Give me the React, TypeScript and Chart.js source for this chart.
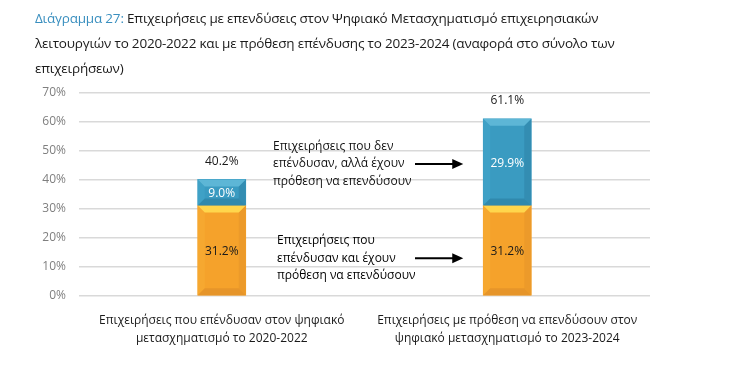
import React, { useEffect, useRef } from "react";
import { Chart, registerables } from "chart.js";

Chart.register(...registerables);

const categories: string[][] = [
  ["Επιχειρήσεις που επένδυσαν στον ψηφιακό", "μετασχηματισμό το 2020-2022"],
  ["Επιχειρήσεις με πρόθεση να επενδύσουν στον", "ψηφιακό μετασχηματισμό το 2023-2024"],
];
const investedAndIntend: number[] = [31.2, 31.2];
const notInvestedButIntend: number[] = [9.0, 29.9];
const totals: number[] = [40.2, 61.1];
const yTicks: number[] = [0, 10, 20, 30, 40, 50, 60, 70];

const titleLead = "Διάγραμμα 27:";
const titleLines = [
  " Επιχειρήσεις με επενδύσεις στον Ψηφιακό Μετασχηματισμό επιχειρησιακών",
  "λειτουργιών το 2020-2022 και με πρόθεση επένδυσης το 2023-2024 (αναφορά στο σύνολο των",
  "επιχειρήσεων)",
];

const annotationTop = ["Επιχειρήσεις που δεν", "επένδυσαν, αλλά έχουν", "πρόθεση να επενδύσουν"];
const annotationBottom = ["Επιχειρήσεις που", "επένδυσαν και έχουν", "πρόθεση να επενδύσουν"];

const FONT = "'Open Sans', 'Noto Sans', sans-serif";

const palettes = [
  { top: "#FFD64C", left: "#F6A830", right: "#EC9A2A", bottom: "#E6952A", label: "#1a1a1a" },
  { top: "#5DB6D6", left: "#3FA1C6", right: "#338DB2", bottom: "#3089AD", label: "#ffffff" },
];

const bevelPlugin = {
  id: "bevelAndLabels",
  afterDatasetsDraw(chart: any) {
    const ctx = chart.ctx;
    ctx.save();
    chart.data.datasets.forEach((ds: any, di: number) => {
      const meta = chart.getDatasetMeta(di);
      const pal = palettes[di];
      meta.data.forEach((bar: any, i: number) => {
        const { x, y, base, width } = bar.getProps(["x", "y", "base", "width"], true);
        const l = x - width / 2;
        const r = x + width / 2;
        const t = Math.min(y, base);
        const b = Math.max(y, base);
        const bv = Math.min(7, (b - t) / 2);
        const poly = (pts: number[][], color: string) => {
          ctx.beginPath();
          ctx.moveTo(pts[0][0], pts[0][1]);
          for (let k = 1; k < pts.length; k++) ctx.lineTo(pts[k][0], pts[k][1]);
          ctx.closePath();
          ctx.fillStyle = color;
          ctx.fill();
        };
        poly([[l, t], [l + bv, t + bv], [l + bv, b - bv], [l, b]], pal.left);
        poly([[r, t], [r, b], [r - bv, b - bv], [r - bv, t + bv]], pal.right);
        poly([[l, b], [l + bv, b - bv], [r - bv, b - bv], [r, b]], pal.bottom);
        poly([[l, t], [r, t], [r - bv, t + bv], [l + bv, t + bv]], pal.top);
        ctx.font = `12px ${FONT}`;
        ctx.fillStyle = pal.label;
        ctx.textAlign = "center";
        ctx.textBaseline = "middle";
        ctx.fillText(ds.data[i].toFixed(1) + "%", x, (t + b) / 2 + 1);
      });
    });
    const yScale = chart.scales.y;
    const xScale = chart.scales.x;
    ctx.font = `12px ${FONT}`;
    ctx.fillStyle = "#1a1a1a";
    ctx.textAlign = "center";
    ctx.textBaseline = "middle";
    totals.forEach((v, i) => {
      ctx.fillText(v.toFixed(1) + "%", xScale.getPixelForValue(i), yScale.getPixelForValue(v) - 18);
    });
    const arrow = (x1: number, x2: number, yy: number) => {
      ctx.strokeStyle = "#000";
      ctx.lineWidth = 2;
      ctx.beginPath();
      ctx.moveTo(x1, yy);
      ctx.lineTo(x2 - 8, yy);
      ctx.stroke();
      ctx.beginPath();
      ctx.moveTo(x2, yy);
      ctx.lineTo(x2 - 11, yy - 5);
      ctx.lineTo(x2 - 11, yy + 5);
      ctx.closePath();
      ctx.fillStyle = "#000";
      ctx.fill();
    };
    const x2 = xScale.getPixelForValue(1) - 44;
    ctx.textAlign = "left";
    ctx.fillStyle = "#111";
    const yTopMid = yScale.getPixelForValue(45.5);
    annotationTop.forEach((s, k) => ctx.fillText(s, 273, yTopMid + (k - 1) * 17.5));
    arrow(415, x2, yTopMid);
    const yBotMid = yScale.getPixelForValue(13);
    annotationBottom.forEach((s, k) => ctx.fillText(s, 277, yBotMid + (k - 1) * 17.5));
    arrow(415, x2, yBotMid);
    ctx.restore();
  },
};

export default function App() {
  const ref = useRef<HTMLCanvasElement>(null);
  useEffect(() => {
    document.body.style.margin = "0";
    const chart = new Chart(ref.current!, {
      type: "bar",
      data: {
        labels: categories,
        datasets: [
          {
            label: "Επένδυσαν και έχουν πρόθεση",
            data: investedAndIntend,
            backgroundColor: "#F5A22B",
            barThickness: 48,
          },
          {
            label: "Δεν επένδυσαν, αλλά έχουν πρόθεση",
            data: notInvestedButIntend,
            backgroundColor: "#3A9BC1",
            barThickness: 48,
          },
        ],
      },
      options: {
        animation: false,
        responsive: false,
        maintainAspectRatio: false,
        layout: { padding: { left: 0, right: 90, top: 93, bottom: 0 } },
        plugins: { legend: { display: false }, tooltip: { enabled: false }, title: { display: false } },
        scales: {
          x: {
            stacked: true,
            grid: { display: false },
            border: { display: false },
            ticks: {
              color: "#1a1a1a",
              font: { family: FONT, size: 12, lineHeight: 1.5 },
              padding: 8,
              maxRotation: 0,
              autoSkip: false,
            },
            afterFit: (s: any) => {
              s.height = 84;
            },
          },
          y: {
            stacked: true,
            min: 0,
            max: 70,
            afterBuildTicks: (s: any) => {
              s.ticks = yTicks.map((v) => ({ value: v }));
            },
            grid: { color: "#d9d9d9", lineWidth: 1.5, drawTicks: false },
            border: { display: false },
            ticks: {
              color: "#7f7f7f",
              font: { family: FONT, size: 12 },
              padding: 13,
              callback: (v: any) => v + "%",
            },
            afterFit: (s: any) => {
              s.width = 79;
            },
          },
        },
      },
      plugins: [bevelPlugin],
    });
    return () => chart.destroy();
  }, []);

  return (
    <div style={{ position: "relative", width: 740, height: 380, background: "#fff" }}>
      <canvas ref={ref} width={740} height={380} style={{ position: "absolute", left: 0, top: 0 }} />
      <div
        style={{
          position: "absolute",
          left: 35,
          top: 6,
          width: 700,
          whiteSpace: "nowrap",
          fontFamily: FONT,
          fontSize: 13.5,
          letterSpacing: "-0.2px",
          lineHeight: "25px",
          color: "#1a1a1a",
        }}
      >
        <div>
          <span style={{ color: "#3A8FBF" }}>{titleLead}</span>
          {titleLines[0]}
        </div>
        <div>{titleLines[1]}</div>
        <div>{titleLines[2]}</div>
      </div>
    </div>
  );
}
